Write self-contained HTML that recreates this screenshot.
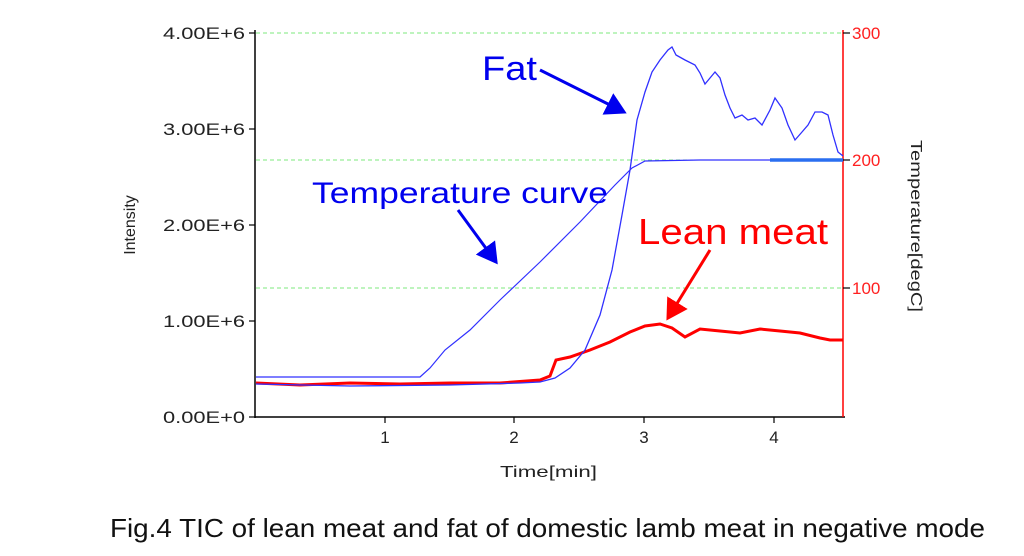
<!DOCTYPE html>
<html><head><style>
body{margin:0;background:#fff;width:1024px;height:551px;overflow:hidden}
svg text{font-family:"Liberation Sans",sans-serif}
</style></head><body>
<svg width="1024" height="551" viewBox="0 0 1024 551" xmlns="http://www.w3.org/2000/svg">
<defs>
<marker id="ab" markerWidth="8" markerHeight="8" refX="6" refY="4" orient="auto" markerUnits="strokeWidth"><path d="M0,0 L7,4 L0,8 z" fill="#0000ee"/></marker>
<marker id="ar" markerWidth="8" markerHeight="8" refX="6" refY="4" orient="auto" markerUnits="strokeWidth"><path d="M0,0 L7,4 L0,8 z" fill="#ff0000"/></marker>
</defs>
<g stroke="#7de87d" stroke-dasharray="4,3" stroke-width="1">
<line x1="256" y1="33" x2="843" y2="33"/><line x1="256" y1="160" x2="843" y2="160"/><line x1="256" y1="288" x2="843" y2="288"/>
</g>
<line x1="255" y1="30" x2="255" y2="418" stroke="#000" stroke-width="1.5"/>
<line x1="255" y1="417" x2="845" y2="417" stroke="#000" stroke-width="1.5"/>
<line x1="843" y1="30" x2="843" y2="417" stroke="#ff0000" stroke-width="1.5"/>
<g stroke="#000" stroke-width="1.2">
<line x1="249" y1="33" x2="255" y2="33"/><line x1="249" y1="129" x2="255" y2="129"/><line x1="249" y1="225" x2="255" y2="225"/><line x1="249" y1="321" x2="255" y2="321"/><line x1="249" y1="417" x2="255" y2="417"/>
<line x1="385" y1="417" x2="385" y2="423"/><line x1="514" y1="417" x2="514" y2="423"/><line x1="644" y1="417" x2="644" y2="423"/><line x1="774" y1="417" x2="774" y2="423"/>
<line x1="843" y1="33" x2="850" y2="33"/><line x1="843" y1="160" x2="850" y2="160"/><line x1="843" y1="288" x2="850" y2="288"/>
</g>
<g font-size="17" fill="#222" lengthAdjust="spacingAndGlyphs">
<text x="163" y="39" textLength="82" lengthAdjust="spacingAndGlyphs">4.00E+6</text><text x="163" y="135" textLength="82" lengthAdjust="spacingAndGlyphs">3.00E+6</text><text x="163" y="231" textLength="82" lengthAdjust="spacingAndGlyphs">2.00E+6</text><text x="163" y="327" textLength="82" lengthAdjust="spacingAndGlyphs">1.00E+6</text><text x="163" y="423" textLength="82" lengthAdjust="spacingAndGlyphs">0.00E+0</text>
</g>
<g font-size="17" fill="#222" text-anchor="middle">
<text x="385" y="443">1</text><text x="514" y="443">2</text><text x="644" y="443">3</text><text x="774" y="443">4</text>
</g>
<text x="500" y="477" font-size="16" fill="#222" textLength="97" lengthAdjust="spacingAndGlyphs">Time[min]</text>
<g font-size="17" fill="#ff2020"><text x="852" y="39">300</text><text x="852" y="166">200</text><text x="852" y="294">100</text></g>
<text transform="translate(135,225) rotate(-90)" font-size="16" fill="#222" text-anchor="middle">Intensity</text>
<text transform="translate(911,140) rotate(90)" font-size="16" fill="#222" textLength="172" lengthAdjust="spacingAndGlyphs">Temperature[degC]</text>
<!-- temperature -->
<polyline fill="none" stroke="#3030ff" stroke-width="1.2" points="256,377 420,377 430,368 445,350 470,330 500,300 540,262 580,222 615,185 632,168 645,161 700,160 843,160"/>
<line x1="770" y1="160" x2="843" y2="160" stroke="#2a6ef0" stroke-width="3.5"/>
<!-- lean -->
<polyline fill="none" stroke="#ff0000" stroke-width="3" points="256,383 300,385 350,383 400,384 450,383 500,383 540,380 550,376 556,360 570,357 590,350 610,342 630,332 645,326 660,324 672,328 685,337 700,329 720,331 740,333 760,329 780,331 800,333 820,338 830,340 843,340"/>
<!-- fat -->
<polyline fill="none" stroke="#3030ff" stroke-width="1.3" points="256,384 350,386 450,385 520,383 540,382 555,378 570,368 585,350 600,315 612,270 622,215 630,170 637,120 645,92 652,72 660,60 668,50 672,47 676,55 685,60 695,65 700,73 705,84 710,78 715,72 720,78 725,95 730,108 735,118 742,115 748,120 755,118 762,125 770,110 775,98 782,108 788,125 795,140 802,132 808,125 815,112 822,112 828,115 833,135 838,152 843,156"/>
<!-- annotations -->
<text x="482" y="80" font-size="34" fill="#0000ee" textLength="55" lengthAdjust="spacingAndGlyphs">Fat</text>
<line x1="540" y1="70" x2="624" y2="112" stroke="#0000ee" stroke-width="3" marker-end="url(#ab)"/>
<text x="312" y="203" font-size="30" fill="#0000ee" textLength="296" lengthAdjust="spacingAndGlyphs">Temperature curve</text>
<line x1="458" y1="210" x2="496" y2="262" stroke="#0000ee" stroke-width="3" marker-end="url(#ab)"/>
<text x="638" y="244" font-size="36" fill="#ff0000" textLength="190" lengthAdjust="spacingAndGlyphs">Lean meat</text>
<line x1="710" y1="250" x2="668" y2="318" stroke="#ff0000" stroke-width="3" marker-end="url(#ar)"/>
<text x="110" y="537" font-size="26" fill="#111" textLength="875" lengthAdjust="spacingAndGlyphs">Fig.4 TIC of lean meat and fat of domestic lamb meat in negative mode</text>
</svg>
</body></html>
